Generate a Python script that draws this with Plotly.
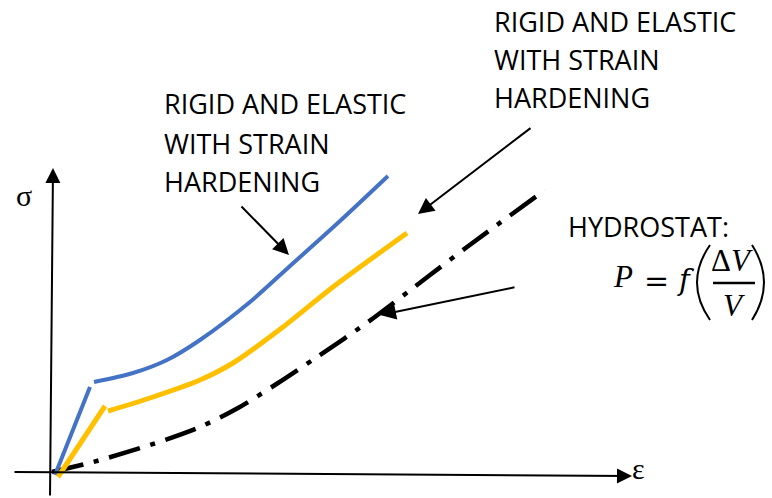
import plotly.graph_objects as go

# ---- data (schematic strain / stress values) ----
blue_elastic_eps = [0.03, 0.38]
blue_elastic_sig = [-0.03, 0.85]
blue_hard_eps = [0.42, 0.81, 1.15, 1.48, 1.98, 2.38, 2.88, 3.36]
blue_hard_sig = [0.90, 0.99, 1.12, 1.32, 1.70, 2.06, 2.51, 2.96]

yellow_elastic_eps = [0.06, 0.53]
yellow_elastic_sig = [-0.05, 0.66]
yellow_hard_eps = [0.56, 0.98, 1.48, 1.81, 2.31, 2.81, 3.55]
yellow_hard_sig = [0.61, 0.74, 0.92, 1.09, 1.45, 1.85, 2.39]

hydro_eps = [0.00, 0.41, 0.98, 1.48, 1.86, 2.26, 2.65, 3.16, 3.78, 4.15, 4.93]
hydro_sig = [0.00, 0.10, 0.27, 0.45, 0.64, 0.89, 1.15, 1.50, 1.97, 2.25, 2.82]

label_left = ["RIGID AND ELASTIC", "WITH STRAIN", "HARDENING"]
label_right = ["RIGID AND ELASTIC", "WITH STRAIN", "HARDENING"]
label_hydro = "HYDROSTAT:"

BLUE = "#4472C4"
YELLOW = "#FFC000"
BLACK = "#000000"

fig = go.Figure()

def add_line(x, y, color, width, dash="solid", shape="spline"):
    fig.add_trace(go.Scatter(x=x, y=y, mode="lines",
                             line=dict(color=color, width=width, dash=dash, shape=shape, smoothing=0.8),
                             hoverinfo="skip", showlegend=False))

add_line(hydro_eps, hydro_sig, BLACK, 4.5, dash="32px,11px,5px,11px")
add_line(blue_elastic_eps, blue_elastic_sig, BLUE, 4, shape="linear")
add_line(blue_hard_eps, blue_hard_sig, BLUE, 4)
add_line(yellow_elastic_eps, yellow_elastic_sig, YELLOW, 5, shape="linear")
add_line(yellow_hard_eps, yellow_hard_sig, YELLOW, 5)

TEXT_FONT = dict(family="Open Sans", size=27, color=BLACK)

def arrow(x0, y0, x1, y1, size=1.6, width=2):
    fig.add_annotation(x=x1, y=y1, ax=x0, ay=y0, xref="x", yref="y", axref="x", ayref="y",
                       text="", showarrow=True, arrowhead=2, arrowsize=size, arrowwidth=width,
                       arrowcolor=BLACK, standoff=0)

# axes (drawn as arrows)
arrow(-0.02, -0.25, 0.01, 3.04, size=1.5, width=2)
arrow(-0.39, 0.00, 5.80, -0.04, size=1.5, width=2)

# pointer arrows
arrow(1.88, 2.67, 2.37, 2.17)
arrow(4.80, 3.45, 3.66, 2.58)
arrow(4.64, 1.85, 3.28, 1.57)

def text(x, y, s, font=TEXT_FONT, xanchor="left"):
    fig.add_annotation(x=x, y=y, xref="x", yref="y", text=s, showarrow=False,
                       xanchor=xanchor, yanchor="middle", font=font)

for i, s in enumerate(label_left):
    text(1.10, [3.685, 3.29, 2.905][i], s)
for i, s in enumerate(label_right):
    text(4.40, [4.505, 4.13, 3.745][i], s)
text(5.14, 2.46, label_hydro)

# axis labels
SERIF = dict(family="Liberation Serif", size=30, color=BLACK)
text(-0.28, 2.77, "σ", font=SERIF, xanchor="center")
text(5.86, 0.04, "ε", font=SERIF, xanchor="center")

# formula P = f(ΔV/V)
MATH = dict(family="Liberation Serif", size=31, color=BLACK)
text(5.71, 1.96, "<i>P</i>", font=MATH, xanchor="center")
text(6.04, 1.92, "=", font=dict(family="DejaVu Serif", size=30, color=BLACK), xanchor="center")
text(6.34, 1.92, "<i>f</i>", font=dict(family="DejaVu Serif", size=29, color=BLACK), xanchor="center")
text(6.80, 2.12, "Δ<i>V</i>", font=MATH, xanchor="center")
text(6.82, 1.67, "<i>V</i>", font=MATH, xanchor="center")
fig.add_shape(type="line", x0=6.61, x1=7.03, y0=1.89, y1=1.89, xref="x", yref="y",
              line=dict(color=BLACK, width=2.5))
fig.add_shape(type="path", xref="x", yref="y", path="M 6.58,2.27 Q 6.32,1.895 6.58,1.52",
              line=dict(color=BLACK, width=2))
fig.add_shape(type="path", xref="x", yref="y", path="M 7.00,2.27 Q 7.24,1.895 7.00,1.52",
              line=dict(color=BLACK, width=2))

fig.update_layout(
    width=772, height=498,
    margin=dict(l=0, r=0, t=0, b=0),
    paper_bgcolor="white", plot_bgcolor="white",
    xaxis=dict(range=[-0.52, 7.20], visible=False, fixedrange=True),
    yaxis=dict(range=[-0.26, 4.72], visible=False, fixedrange=True),
    showlegend=False,
)

fig.write_html("out.html", config={"displayModeBar": False},
               post_script="document.body.style.margin='0';document.body.style.overflow='hidden';")
